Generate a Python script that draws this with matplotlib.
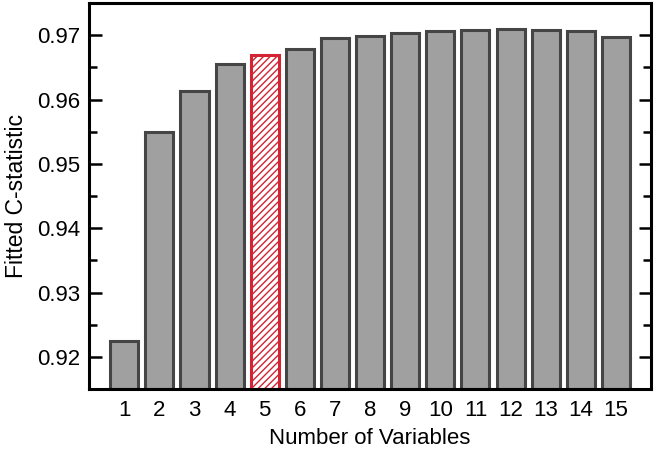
import numpy as np
import matplotlib.pyplot as plt
from matplotlib.ticker import MultipleLocator

plt.rcParams['font.family'] = ['Liberation Sans', 'DejaVu Sans']
plt.rcParams['hatch.linewidth'] = 1.0

n_vars = list(range(1, 16))
cstat = [0.9224, 0.9549, 0.9614, 0.9656, 0.9670, 0.9679, 0.9696, 0.9699,
         0.9704, 0.9706, 0.9708, 0.9710, 0.9709, 0.9707, 0.9697]
highlight = 5

fig = plt.figure(figsize=(6.55, 4.54), dpi=100)
ax = fig.add_axes([0.136, 0.143, 0.858, 0.850])

for x, v in zip(n_vars, cstat):
    if x == highlight:
        ax.bar(x, v - 0.915, bottom=0.915, width=0.8, color='white',
               edgecolor='#d42333', hatch='/////', linewidth=2.2, zorder=2)
    else:
        ax.bar(x, v - 0.915, bottom=0.915, width=0.8, color='#a0a0a0',
               edgecolor='#454545', linewidth=2.2, zorder=2)

ax.set_xlim(0, 16)
ax.set_ylim(0.915, 0.975)
ax.set_xticks(n_vars)
ax.yaxis.set_major_locator(MultipleLocator(0.01))
ax.yaxis.set_minor_locator(MultipleLocator(0.005))
ax.tick_params(axis='x', length=0, labelsize=16, pad=8)
ax.tick_params(axis='y', which='major', direction='in', length=9, width=1.8,
               labelsize=16, right=True, pad=6)
ax.tick_params(axis='y', which='minor', direction='in', length=6, width=1.8,
               right=True)
for s in ax.spines.values():
    s.set_linewidth(2.2)

ax.set_xlabel('Number of Variables', fontsize=16, labelpad=5)
ax.set_ylabel('Fitted C-statistic', fontsize=16.5, labelpad=7)

fig.savefig('out.png', dpi=100)
